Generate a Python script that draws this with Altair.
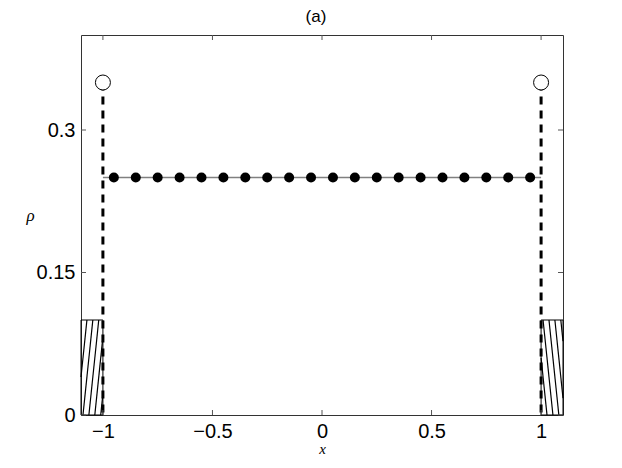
import altair as alt
import numpy as np
import pandas as pd

# ---- data ----
dot_x = [-0.95, -0.85, -0.75, -0.65, -0.55, -0.45, -0.35, -0.25, -0.15, -0.05,
         0.05, 0.15, 0.25, 0.35, 0.45, 0.55, 0.65, 0.75, 0.85, 0.95]
dot_rho = [0.25] * 20
line_x = [-1.0, 1.0]
line_rho = [0.25, 0.25]
wall_x = [-1.0, 1.0]
wall_top = [0.35, 0.35]
rect_x0 = [-1.1, 1.0]
rect_x1 = [-1.0, 1.1]
rect_top = [0.1, 0.1]
xticks = [-1, -0.5, 0, 0.5, 1]
yticks = [0, 0.15, 0.3]

W, H = 482, 380
xs = alt.Scale(domain=[-1.1, 1.1], nice=False, zero=False)
ys = alt.Scale(domain=[0, 0.4], nice=False, zero=False)


def hatch(x0, x1, y0, y1, slant, step):
    segs = []
    h = y1 - y0
    lo = min(x0, x0 - slant)
    hi = max(x1, x1 - slant)
    c = lo
    while c <= hi + 1e-9:
        ya, yb = y0, y1
        ya_x0 = y0 + (x0 - c) * h / slant
        yb_x1 = y0 + (x1 - c) * h / slant
        lo_y, hi_y = sorted([ya_x0, yb_x1])
        ya = max(ya, lo_y)
        yb = min(yb, hi_y)
        if yb - ya > 1e-6:
            segs.append(dict(x=c + slant * (ya - y0) / h, y=ya,
                             x2=c + slant * (yb - y0) / h, y2=yb))
        c += step
    return segs


hatch_rows = hatch(rect_x0[0], rect_x1[0], 0, rect_top[0], 0.045, 0.027) + \
    hatch(rect_x0[1], rect_x1[1], 0, rect_top[1], -0.045, 0.027)

dots = pd.DataFrame({"x": dot_x, "rho": dot_rho})
line = pd.DataFrame({"x": line_x, "rho": line_rho})
walls = pd.DataFrame({"x": wall_x, "top": wall_top, "bot": [0, 0]})
rects = pd.DataFrame({"x0": rect_x0, "x1": rect_x1, "top": rect_top, "bot": [0, 0]})
hat = pd.DataFrame(hatch_rows)
xt = pd.DataFrame({"v": xticks})
yt = pd.DataFrame({"v": yticks})

base_font = "Liberation Sans"

gline = alt.Chart(line).mark_line(color="#808080", strokeWidth=1.5).encode(
    x=alt.X("x:Q", scale=xs,
            axis=alt.Axis(values=xticks, format="~g", ticks=False, domain=False, grid=False,
                          labelFont=base_font, labelFontSize=20, labelColor="black",
                          labelPadding=6,
                          title="x", titleFont="Liberation Serif", titleFontStyle="italic",
                          titleFontWeight="normal", titleFontSize=15, titleColor="black",
                          titleBaseline="alphabetic", titleY=38)),
    y=alt.Y("rho:Q", scale=ys,
            axis=alt.Axis(values=yticks, format="~g", ticks=False, domain=False, grid=False,
                          labelFont=base_font, labelFontSize=20, labelColor="black",
                          labelPadding=6,
                          title="ρ", titleFont="Liberation Serif", titleFontStyle="italic",
                          titleFontWeight="normal", titleFontSize=17, titleColor="black",
                          titleAngle=0, titleAlign="center", titleBaseline="alphabetic",
                          titleX=-51, titleY=185)),
)

gdots = alt.Chart(dots).mark_point(filled=True, shape="circle", size=100, color="black",
                                   opacity=1).encode(
    x=alt.X("x:Q", scale=xs), y=alt.Y("rho:Q", scale=ys))

grects = alt.Chart(rects).mark_rect(fill=None, stroke="black", strokeWidth=1).encode(
    x=alt.X("x0:Q", scale=xs), x2="x1:Q", y=alt.Y("bot:Q", scale=ys), y2="top:Q")

ghatch = alt.Chart(hat).mark_rule(color="black", strokeWidth=1.2).encode(
    x=alt.X("x:Q", scale=xs), x2="x2:Q", y=alt.Y("y:Q", scale=ys), y2="y2:Q")

gwalls = alt.Chart(walls).mark_rule(color="black", strokeWidth=3, strokeDash=[8, 6]).encode(
    x=alt.X("x:Q", scale=xs), y=alt.Y("top:Q", scale=ys), y2="bot:Q")

gcirc = alt.Chart(walls).mark_point(shape="circle", size=225, filled=True, fill="white",
                                    stroke="black", strokeWidth=1, opacity=1).encode(
    x=alt.X("x:Q", scale=xs), y=alt.Y("top:Q", scale=ys))

tick_col = "#555555"
tb = alt.Chart(xt).mark_rule(color=tick_col).encode(
    x=alt.X("v:Q", scale=xs), y=alt.value(H), y2=alt.value(H - 5))
tt = alt.Chart(xt).mark_rule(color=tick_col).encode(
    x=alt.X("v:Q", scale=xs), y=alt.value(0), y2=alt.value(5))
tl = alt.Chart(yt).mark_rule(color=tick_col).encode(
    y=alt.Y("v:Q", scale=ys), x=alt.value(0), x2=alt.value(5))
tr = alt.Chart(yt).mark_rule(color=tick_col).encode(
    y=alt.Y("v:Q", scale=ys), x=alt.value(W), x2=alt.value(W - 5))

chart = alt.layer(gline, grects, ghatch, gwalls, gdots, gcirc, tb, tt, tl, tr).properties(
    width=W, height=H,
    title=alt.TitleParams("(a)", font=base_font, fontSize=17, fontWeight="normal",
                          color="black", anchor="middle", dx=-6, offset=9),
    autosize=alt.AutoSizeParams(type="none"),
    padding={"left": 73, "top": 27, "right": 51, "bottom": 45},
).configure_view(stroke="#333333", strokeWidth=1)

chart.save("out.html", embed_options={"renderer": "svg", "actions": False})
